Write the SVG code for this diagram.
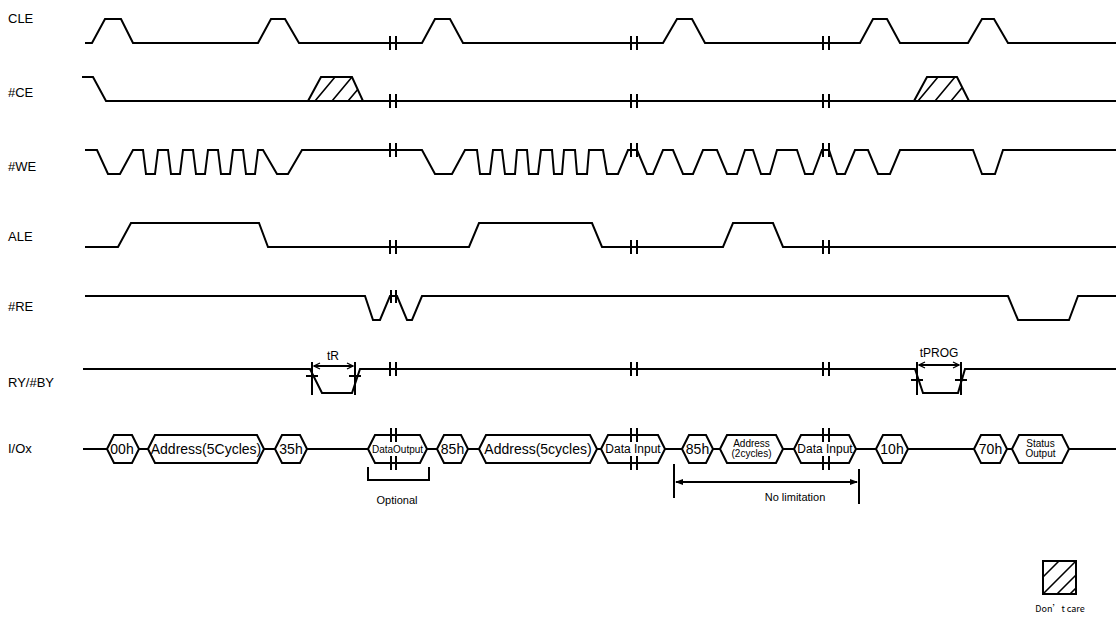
<svg xmlns="http://www.w3.org/2000/svg" width="1116" height="625" viewBox="0 0 1116 625">
<style>
.sig{fill:none;stroke:#000;stroke-width:2;stroke-linejoin:miter}
.tk{fill:none;stroke:#000;stroke-width:2}
.hx{fill:#fff;stroke:#000;stroke-width:2}
.lbl{font-family:"Liberation Sans",Arial,sans-serif;font-size:13px;fill:#000}
.ht{font-family:"Liberation Sans",Arial,sans-serif;font-size:14px;fill:#000;text-anchor:middle;dominant-baseline:central}
.hs{font-family:"Liberation Sans",Arial,sans-serif;font-size:12px;fill:#000;text-anchor:middle;dominant-baseline:central}
.sm{font-family:"Liberation Sans",Arial,sans-serif;font-size:10px;fill:#000;text-anchor:middle;dominant-baseline:central}
.note{font-family:"Liberation Sans",Arial,sans-serif;font-size:11px;fill:#000;text-anchor:middle;dominant-baseline:central}
.dim{font-family:"Liberation Sans",Arial,sans-serif;font-size:12px;fill:#000;text-anchor:middle}
.leg{font-family:"Noto Sans CJK SC","Liberation Sans",sans-serif;font-size:9px;fill:#000;text-anchor:middle;dominant-baseline:central}
.hatch{stroke:#000;stroke-width:1.6}
</style>
<defs>
<marker id="open" viewBox="0 0 8 8" refX="7" refY="4" markerWidth="8" markerHeight="8" markerUnits="userSpaceOnUse" orient="auto-start-reverse">
<path d="M1,1 L7,4 L1,7" fill="none" stroke="#000" stroke-width="1.3"/>
</marker>
<marker id="fill" viewBox="0 0 8 8" refX="7" refY="4" markerWidth="8" markerHeight="8" markerUnits="userSpaceOnUse" orient="auto-start-reverse">
<path d="M0,1 L8,4 L0,7 Z" fill="#000"/>
</marker>
</defs>
<rect width="1116" height="625" fill="#fff"/>

<g id="CLE">
<text class="lbl" x="8" y="23">CLE</text>
<polyline class="sig" points="85,43 92,43 105,19 121,19 133,43 258,43 271,19 285,19 299,43 422,43 435,19 450,19 463,43 663,43 677,19 692,19 705,43 860,43 873,19 887,19 900,43 968,43 982,19 994,19 1008,43 1116,43"/>
<path class="tk" d="M390,36V50M396,36V50M631,36V50M637,36V50M823,36V50M829,36V50"/>
</g>

<g id="CE">
<text class="lbl" x="8" y="97">#CE</text>
<polyline class="sig" points="82,77 93,77 106,101 1116,101"/>
<polygon class="sig" points="308,101 321,77 352,77 363,101"/>
<path class="hatch" d="M315,101L335,77M332,101L352,77M348,101L357.7,89.4"/>
<polygon class="sig" points="914,101 927,77 957,77 969,101"/>
<path class="hatch" d="M918,101L938,77M935,101L955,77M951,101L962.2,87.5"/>
<path class="tk" d="M390,94V108M396,94V108M631,94V108M637,94V108M823,94V108M829,94V108"/>
</g>

<g id="WE">
<text class="lbl" x="8" y="171">#WE</text>
<polyline class="sig" points="85,150 97,150 108,174 120,174 133,150 143,150 146,174 155,174 158,150 168,150 171,174 180,174 183,150 193,150 196,174 205,174 208,150 218,150 221,174 230,174 233,150 243,150 246,174 255,174 258,150 263,150 277,174 288,174 302,150 422,150 435,174 452,174 465,150 477,150 480,174 490,174 493,150 502,150 505,174 515,174 517,150 527,150 529,174 538,174 541,150 552,150 554,174 562,174 564,150 575,150 577,174 587,174 589,150 603,150 607,174 618,174 628,150 637,150 647,174 653,174 663,150 673,150 683,174 693,174 703,150 717,150 727,174 737,174 745,150 753,150 761,174 770,174 777,150 797,150 805,174 813,174 822,150 829,150 837,174 845,174 855,150 868,150 878,174 890,174 900,150 973,150 982,174 995,174 1003,150 1116,150"/>
<path class="tk" d="M390,143V157M396,143V157M631,143V157M637,143V157M823,143V157M829,143V157"/>
</g>

<g id="ALE">
<text class="lbl" x="8" y="241">ALE</text>
<polyline class="sig" points="85,247 118,247 131,223 259,223 268,247 469,247 479,223 592,223 602,247 723,247 733,223 773,223 783,247 1116,247"/>
<path class="tk" d="M390,240V254M396,240V254M631,240V254M637,240V254M823,240V254M829,240V254"/>
</g>

<g id="RE">
<text class="lbl" x="8" y="311">#RE</text>
<polyline class="sig" points="85,296 365,296 373,320 380,320 390,296 397,296 407,320 412,320 422,296 1008,296 1018,320 1069,320 1078,296 1116,296"/>
<path class="tk" d="M391,290V303M396,290V303"/>
</g>

<g id="RYBY">
<text class="lbl" x="8" y="387">RY/#BY</text>
<polyline class="sig" points="83,369 310,369 322,393 352,393 360,369 915,369 923,393 958,393 965,369 1116,369"/>
<path class="tk" d="M390,362V376M396,362V376M631,362V376M637,362V376M823,362V376M829,362V376"/>
</g>

<g id="IOx">
<text class="lbl" x="8" y="453">I/Ox</text>
<line class="sig" x1="83" y1="449" x2="1116" y2="449"/>
<g id="io-00h"><polygon class="hx" points="107,449 114,435 132,435 139,449 132,463 114,463"/><text class="ht" x="122" y="449">00h</text></g>
<g id="io-addr1"><polygon class="hx" points="148,449 155,435 257,435 264,449 257,463 155,463"/><text class="ht" x="206" y="449">Address(5Cycles)</text></g>
<g id="io-35h"><polygon class="hx" points="275,449 282,435 300,435 307,449 300,463 282,463"/><text class="ht" x="291" y="449">35h</text></g>
<g id="io-dout"><polygon class="hx" points="368,449 375,435 420,435 427,449 420,463 375,463"/><text class="sm" x="397.5" y="449">DataOutput</text>
<path class="tk" d="M391,428V442M396,428V442M391,456V470M396,456V470"/></g>
<g id="io-85h-1"><polygon class="hx" points="437,449 444,435 461,435 468,449 461,463 444,463"/><text class="ht" x="452.5" y="449">85h</text></g>
<g id="io-addr2"><polygon class="hx" points="479,449 486,435 590,435 597,449 590,463 486,463"/><text class="ht" x="538" y="449">Address(5cycles)</text></g>
<g id="io-din1"><polygon class="hx" points="601,449 608,435 658,435 665,449 658,463 608,463"/><text class="hs" x="633" y="449">Data Input</text>
<path class="tk" d="M631,428V442M637,428V442M631,456V470M637,456V470"/></g>
<g id="io-85h-2"><polygon class="hx" points="682,449 689,435 706,435 713,449 706,463 689,463"/><text class="ht" x="697.5" y="449">85h</text></g>
<g id="io-addr3"><polygon class="hx" points="720,449 727,435 776,435 783,449 776,463 727,463"/><text class="sm" x="751.5" y="443.5">Address</text><text class="sm" x="751.5" y="453.5">(2cycles)</text></g>
<g id="io-din2"><polygon class="hx" points="794,449 801,435 849,435 856,449 849,463 801,463"/><text class="hs" x="825" y="449">Data Input</text>
<path class="tk" d="M823,428V442M829,428V442M823,456V470M829,456V470"/></g>
<g id="io-10h"><polygon class="hx" points="876,449 883,435 901,435 908,449 901,463 883,463"/><text class="ht" x="892" y="449">10h</text></g>
<g id="io-70h"><polygon class="hx" points="974,449 981,435 1000,435 1007,449 1000,463 981,463"/><text class="ht" x="990.5" y="449">70h</text></g>
<g id="io-status"><polygon class="hx" points="1012,449 1019,435 1062,435 1069,449 1062,463 1019,463"/><text class="sm" x="1040.5" y="443.5">Status</text><text class="sm" x="1040.5" y="453.5">Output</text></g>
</g>

<g id="connectors">
<path class="tk" d="M312,362V395M306,376H318M355,362V395M349,376H361"/>
<line class="tk" x1="314" y1="366" x2="353" y2="366" stroke-width="1.5" marker-start="url(#open)" marker-end="url(#open)"/>
<text class="dim" x="333" y="360">tR</text>
<path class="tk" d="M917,362V395M911,380H923M961,362V395M955,380H967"/>
<line class="tk" x1="919" y1="365" x2="959" y2="365" stroke-width="1.5" marker-start="url(#open)" marker-end="url(#open)"/>
<text class="dim" x="939" y="357">tPROG</text>
<path class="tk" d="M368,467V480H429V467"/>
<text class="note" x="397" y="500">Optional</text>
<path class="tk" d="M674,464V498M859,469V504"/>
<line class="tk" x1="676" y1="482" x2="857" y2="482" stroke-width="1.5" marker-start="url(#fill)" marker-end="url(#fill)"/>
<text class="note" x="795" y="497">No limitation</text>
</g>

<g id="legend">
<rect x="1043" y="561" width="33" height="33" fill="none" stroke="#000" stroke-width="2"/>
<path class="hatch" d="M1043,577L1059,561M1043,594L1076,561M1057,594L1076,575M1070,594L1076,588"/>
<text class="leg" x="1060" y="608">Don’t care</text>
</g>
</svg>
